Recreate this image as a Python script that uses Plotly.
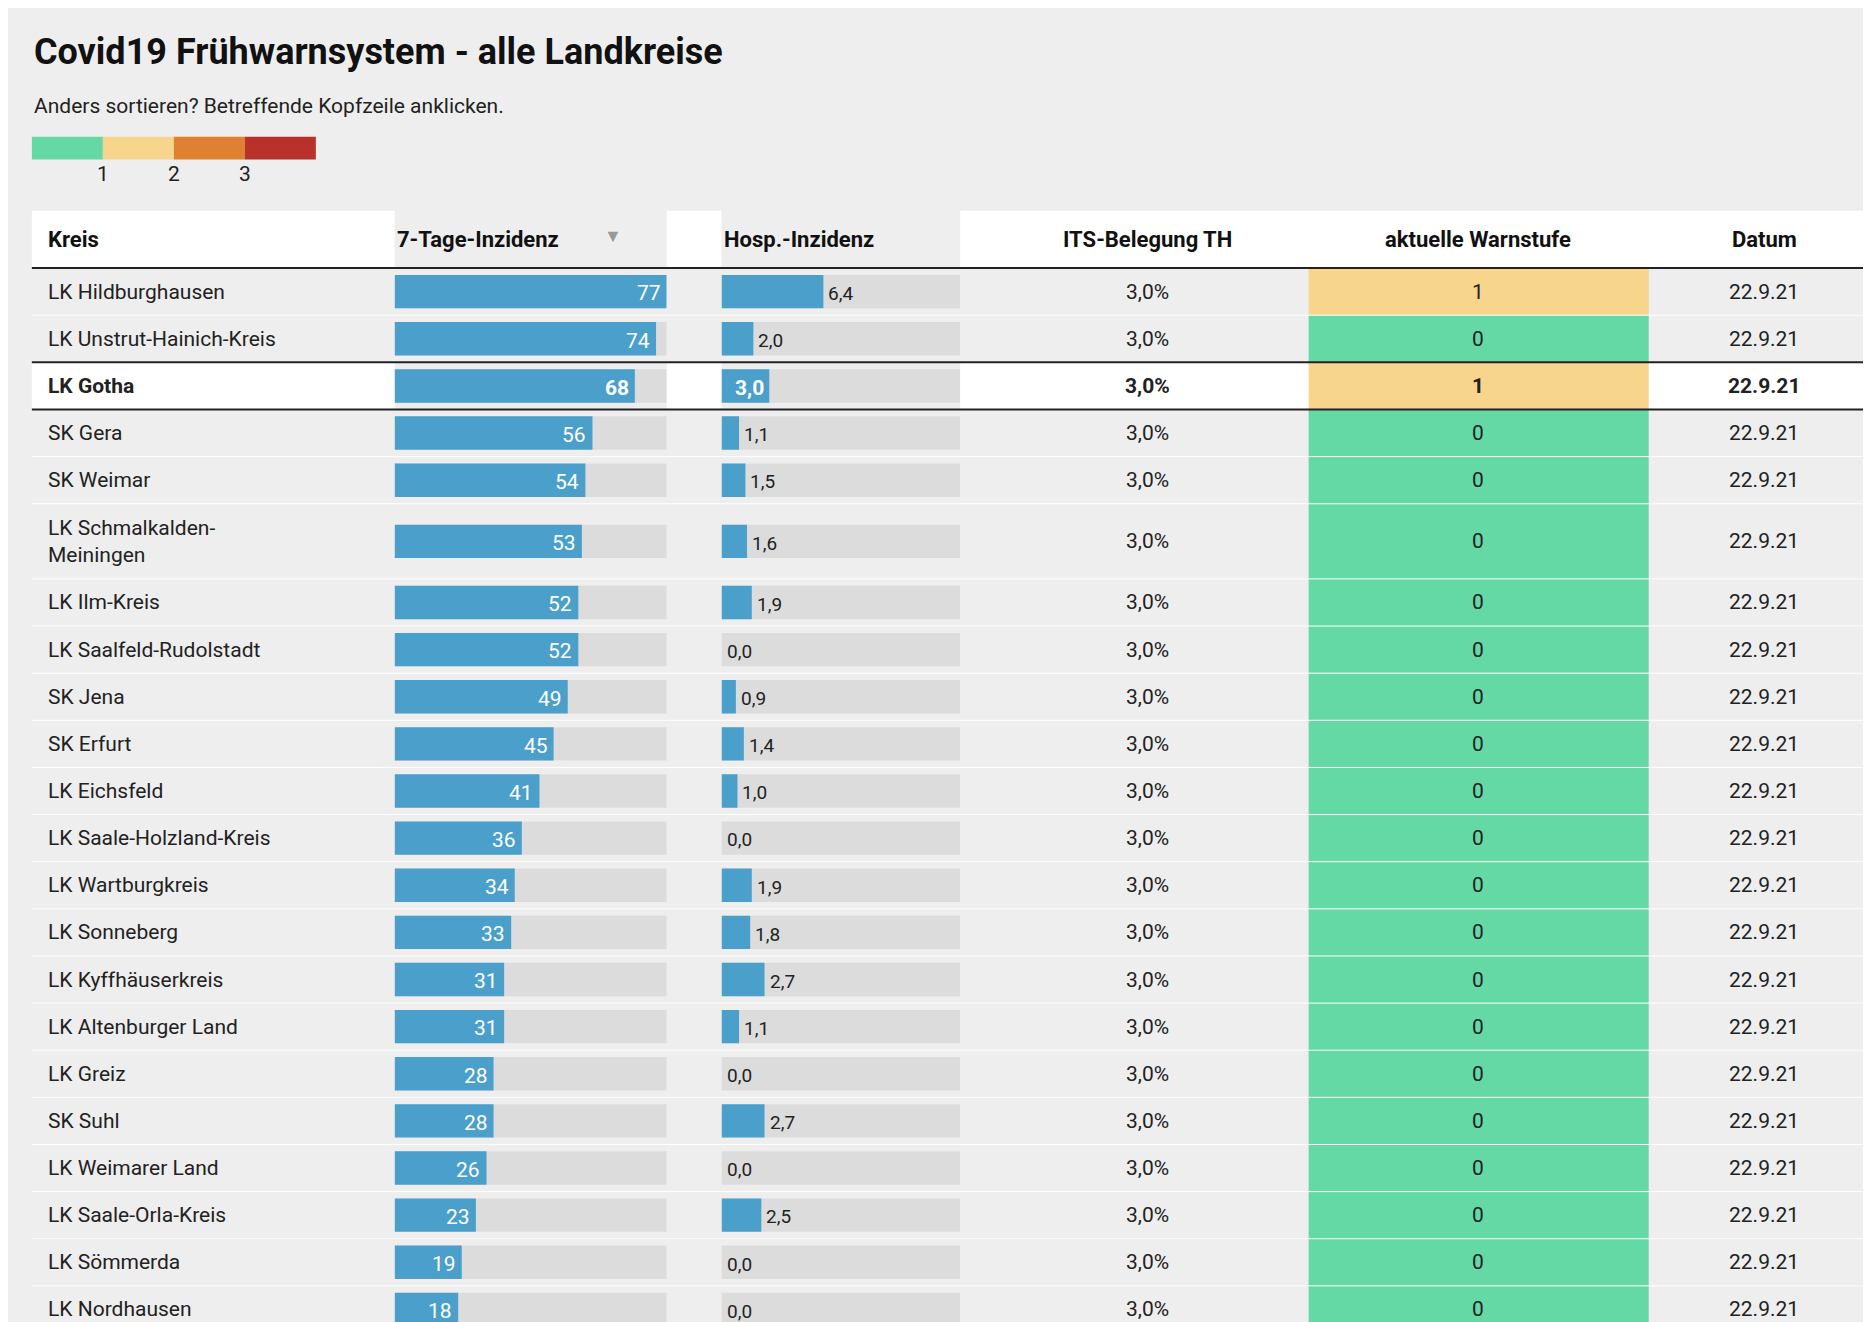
import plotly.graph_objects as go

kreise = ["LK Hildburghausen", "LK Unstrut-Hainich-Kreis", "LK Gotha", "SK Gera", "SK Weimar",
          "LK Schmalkalden-<br>Meiningen", "LK Ilm-Kreis", "LK Saalfeld-Rudolstadt", "SK Jena", "SK Erfurt",
          "LK Eichsfeld", "LK Saale-Holzland-Kreis", "LK Wartburgkreis", "LK Sonneberg", "LK Kyffhäuserkreis",
          "LK Altenburger Land", "LK Greiz", "SK Suhl", "LK Weimarer Land", "LK Saale-Orla-Kreis",
          "LK Sömmerda", "LK Nordhausen"]
inzidenz = [77, 74, 68, 56, 54, 53, 52, 52, 49, 45, 41, 36, 34, 33, 31, 31, 28, 28, 26, 23, 19, 18]
hosp = [6.4, 2.0, 3.0, 1.1, 1.5, 1.6, 1.9, 0.0, 0.9, 1.4, 1.0, 0.0, 1.9, 1.8, 2.7, 1.1, 0.0, 2.7, 0.0, 2.5, 0.0, 0.0]
its = ["3,0%"] * 22
warnstufe = [1, 0, 1] + [0] * 19
datum = ["22.9.21"] * 22
headers = ["Kreis", "7-Tage-Inzidenz", "Hosp.-Inzidenz", "ITS-Belegung TH", "aktuelle Warnstufe", "Datum"]
legend_labels = ["1", "2", "3"]
stufe_farben = ["#64d9a6", "#f7d58c", "#e08132", "#b8312b"]
highlight = "LK Gotha"

W, H = 1568, 1108
font = "Roboto"
dark = "#222222"

# row layout
heights = [63 if "<br>" in k else 39.5 for k in kreise]
tops, centers = [], []
t = 218
for h in heights:
    tops.append(t)
    centers.append(t + h / 2)
    t += h

fig = go.Figure()
# background table pieces
shapes = [dict(type="rect", xref="x", yref="y", x0=20, x1=1558, y0=170, y1=218,
               fillcolor="white", line_width=0, layer="below")]
hi = kreise.index(highlight)
shapes.append(dict(type="rect", xref="x", yref="y", x0=20, x1=1558, y0=tops[hi], y1=tops[hi] + heights[hi],
                   fillcolor="white", line_width=0, layer="below"))
for i, tp in enumerate(tops[1:], 1):
    thick = i in (hi, hi + 1)
    shapes.append(dict(type="line", xref="x", yref="y", x0=20, x1=1558, y0=tp, y1=tp,
                       line=dict(color="#222" if thick else "#ffffff", width=2 if thick else 1)))
shapes.append(dict(type="line", xref="x", yref="y", x0=20, x1=1558, y0=218, y1=218, line=dict(color="#222", width=2)))

# Warnstufe cells
fig.add_trace(go.Bar(x=[285] * len(kreise), base=[1090] * len(kreise), y=centers, width=heights,
                     orientation="h", marker=dict(color=[stufe_farben[w] for w in warnstufe], line_width=0),
                     xaxis="x", yaxis="y", hoverinfo="skip"))
# legend
fig.add_trace(go.Bar(x=[59.5] * 4, base=[20 + 59.5 * i for i in range(4)], y=[117.5] * 4, width=19,
                     orientation="h", marker=dict(color=stufe_farben, line_width=0),
                     xaxis="x", yaxis="y", hoverinfo="skip"))
# incidence bars
fig.add_trace(go.Bar(x=[77] * len(kreise), y=centers, width=28, orientation="h",
                     marker=dict(color="#dcdcdc", line_width=0), xaxis="x2", yaxis="y", hoverinfo="skip"))
fig.add_trace(go.Bar(x=inzidenz, y=centers, width=28, orientation="h",
                     marker=dict(color="#4a9fcb", line_width=0), xaxis="x2", yaxis="y"))
# hosp bars
fig.add_trace(go.Bar(x=[15] * len(kreise), y=centers, width=28, orientation="h",
                     marker=dict(color="#dcdcdc", line_width=0), xaxis="x3", yaxis="y", hoverinfo="skip"))
fig.add_trace(go.Bar(x=hosp, y=centers, width=28, orientation="h",
                     marker=dict(color="#4a9fcb", line_width=0), xaxis="x3", yaxis="y"))

ann = []
def txt(x, y, s, anchor="left", bold=False, size=21, color=dark, xref="x", xshift=0):
    ann.append(dict(x=x, y=y, xref=xref, yref="y", text=f"<b>{s}</b>" if bold else s, showarrow=False,
                    xanchor=anchor, yanchor="middle", xshift=xshift, align="left",
                    font=dict(family=font, size=size, color=color)))

txt(20, 37, "Covid19 Frühwarnsystem - alle Landkreise", bold=True, size=36, color="#111")
txt(20, 82, "Anders sortieren? Betreffende Kopfzeile anklicken.", size=21)
for i, lab in enumerate(legend_labels):
    txt(79.5 + 59.5 * i, 139, lab, anchor="center", size=21)

hx = [(32, "left"), (324, "left"), (598, "left"), (955, "center"), (1232, "center"), (1472, "center")]
for (x, a), h in zip(hx, headers):
    txt(x, 194, h, anchor=a, bold=True, size=22, color="#111")
txt(507, 191, "▼", anchor="center", size=18, color="#999")

for i, k in enumerate(kreise):
    b = k == highlight
    y = centers[i]
    txt(32, y, k, bold=b)
    txt(inzidenz[i], y + 1.5, str(inzidenz[i]), anchor="right", bold=True if b else False, color="white",
        xref="x2", xshift=-4)
    hs = f"{hosp[i]:.1f}".replace(".", ",")
    if b:
        txt(hosp[i], y + 1.5, hs, anchor="right", bold=True, color="white", xref="x3", xshift=-3)
    else:
        txt(hosp[i], y + 1.5, hs, anchor="left", size=19, xref="x3", xshift=3)
    txt(955, y, its[i], anchor="center", bold=b)
    txt(1232, y, str(warnstufe[i]), anchor="center", bold=b)
    txt(1472, y, datum[i], anchor="center", bold=b)

ax_off = dict(showgrid=False, zeroline=False, showticklabels=False, ticks="", fixedrange=True)
fig.update_layout(
    width=1871, height=1322, margin=dict(l=0, r=0, t=0, b=0),
    paper_bgcolor="#eeeeee", plot_bgcolor="#eeeeee", showlegend=False, barmode="overlay",
    xaxis=dict(range=[0, W], domain=[0, 1], **ax_off),
    xaxis2=dict(range=[0, 77], domain=[324 / W, 552 / W], anchor="y", **ax_off),
    xaxis3=dict(range=[0, 15], domain=[598 / W, 798 / W], anchor="y", **ax_off),
    yaxis=dict(range=[H, 0], domain=[0, 1], **ax_off),
    shapes=shapes, annotations=ann,
)
fig.write_html("out.html")
